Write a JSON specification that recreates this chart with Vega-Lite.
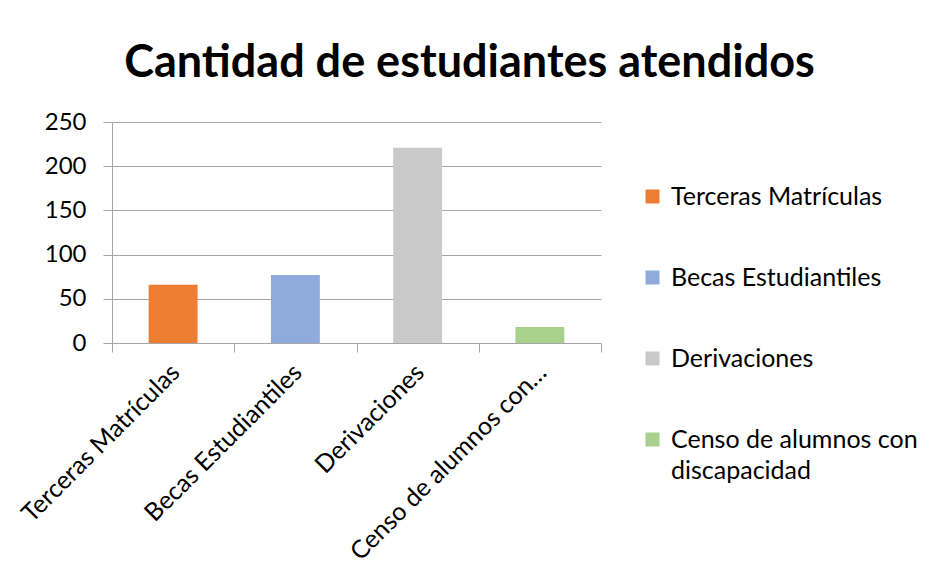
{
  "$schema": "https://vega.github.io/schema/vega-lite/v6.json",
  "width": 489,
  "height": 221,
  "autosize": "none",
  "padding": {"left": 112, "top": 122, "right": 331, "bottom": 226},
  "background": "white",
  "title": {
    "text": "Cantidad de estudiantes atendidos",
    "font": "Lato",
    "fontSize": 45,
    "fontWeight": "bold",
    "color": "#000000",
    "anchor": "middle",
    "frame": "group",
    "dx": 113,
    "offset": 24
  },
  "data": {
    "values": [
      {"categoria": "Terceras Matrículas", "valor": 66},
      {"categoria": "Becas Estudiantiles", "valor": 77},
      {"categoria": "Derivaciones", "valor": 221},
      {"categoria": "Censo de alumnos con discapacidad", "valor": 18}
    ]
  },
  "mark": {"type": "bar", "width": {"band": 0.4}},
  "encoding": {
    "x": {
      "field": "categoria",
      "type": "nominal",
      "sort": null,
      "scale": {"paddingInner": 0, "paddingOuter": 0},
      "axis": {
        "title": null,
        "labelAngle": -45,
        "labelAlign": "right",
        "labelBaseline": "middle",
        "labelFont": "Lato",
        "labelFontSize": 25,
        "labelColor": "#000000",
        "labelPadding": 16,
        "labelOffset": 2,
        "labelLimit": 400,
        "labelExpr": "datum.label == 'Censo de alumnos con discapacidad' ? 'Censo de alumnos con…' : datum.label",
        "tickBand": "extent",
        "tickSize": 9,
        "tickColor": "#a6a6a6",
        "domainColor": "#a6a6a6",
        "grid": false
      }
    },
    "y": {
      "field": "valor",
      "type": "quantitative",
      "scale": {"domain": [0, 250]},
      "axis": {
        "title": null,
        "values": [0, 50, 100, 150, 200, 250],
        "labelFont": "Lato",
        "labelFontSize": 24,
        "labelColor": "#000000",
        "labelPadding": 17,
        "tickSize": 9,
        "tickColor": "#a6a6a6",
        "domainColor": "#a6a6a6",
        "gridColor": "#a6a6a6",
        "grid": true
      }
    },
    "color": {
      "field": "categoria",
      "type": "nominal",
      "sort": null,
      "scale": {
        "domain": ["Terceras Matrículas", "Becas Estudiantiles", "Derivaciones", "Censo de alumnos con discapacidad"],
        "range": ["#ED7D31", "#8FAADC", "#C9C9C9", "#A9D18E"]
      },
      "legend": {
        "title": null,
        "orient": "none",
        "legendX": 528,
        "legendY": 62,
        "padding": 0,
        "symbolType": "square",
        "symbolSize": 196,
        "symbolStrokeWidth": 0,
        "symbolOpacity": 1,
        "labelFont": "Lato",
        "labelFontSize": 25,
        "labelColor": "#000000",
        "labelOffset": 6,
        "labelLimit": 400,
        "rowPadding": 55,
        "labelExpr": "datum.label == 'Censo de alumnos con discapacidad' ? ['Censo de alumnos con', 'discapacidad'] : datum.label"
      }
    }
  },
  "config": {
    "view": {"stroke": null},
    "axis": {"gridWidth": 1, "domainWidth": 1, "tickWidth": 1},
    "style": {"guide-label": {"lineHeight": 31}}
  }
}
